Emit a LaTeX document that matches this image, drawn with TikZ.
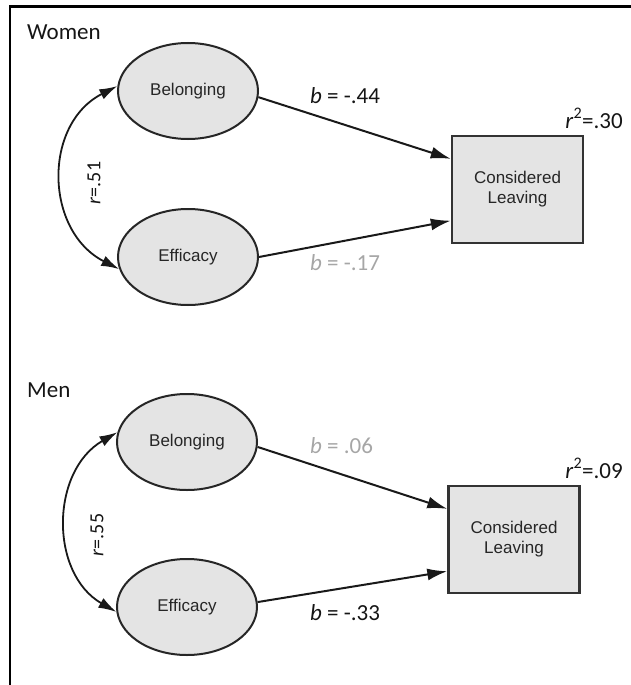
\documentclass[tikz,border=0pt]{standalone}
\usepackage{fontspec}
\setmainfont{Liberation Sans}
\newfontfamily\lblfont{Carlito}
\usetikzlibrary{shapes.geometric,arrows.meta,calc}
\definecolor{latentfill}{HTML}{E4E4E4}
\definecolor{lightlbl}{HTML}{A6A6A6}
\definecolor{darklbl}{HTML}{151515}
\begin{document}
\begin{tikzpicture}[x=1pt,y=-1pt,
  latent/.style={ellipse,draw=black!85,line width=2pt,fill=latentfill,
    minimum width=140pt,minimum height=96pt,inner sep=0pt,
    font=\fontsize{17}{20}\selectfont,text=black!85},
  outcome/.style={rectangle,draw=black!80,line width=2.4pt,fill=latentfill,
    minimum width=131pt,minimum height=107pt,inner sep=0pt,align=center,
    font=\fontsize{17}{20}\selectfont,text=black!85},
  regline/.style={line width=2pt,draw=black!90,-{Latex[length=20pt,width=12pt]}},
  covline/.style={line width=1.8pt,draw=black!90,
    {Latex[length=18pt,width=11pt]}-{Latex[length=18pt,width=11pt]}},
  coef/.style={font=\lblfont\fontsize{23}{25}\selectfont,text=darklbl,inner sep=0pt},
  coefgray/.style={coef,text=lightlbl},
  corr/.style={font=\lblfont\fontsize{20}{22}\selectfont,text=darklbl,inner sep=0pt,rotate=90},
  paneltitle/.style={font=\lblfont\fontsize{23}{25}\selectfont,text=darklbl,inner sep=0pt,anchor=base west},
  frameline/.style={line width=2.5pt,draw=black}
]
\useasboundingbox (0,0) rectangle (631,685);

% frame
\coordinate (fr1) at (631,6.5);
\coordinate (fr2) at (10,6.5);
\coordinate (fr3) at (10,685);
\draw[frameline] (fr1) -- (fr2) -- (fr3);

% ---------------- Women ----------------
\node[paneltitle] (wtitle) at (27,40) {Women};
\node[latent] (wbel) at (188,91) {Belonging};
\node[latent] (weff) at (188,257) {Efficacy};
\node[outcome] (wbox) at (517.5,189.5) {Considered\\Leaving};

\draw[regline] (wbel.-5) -- ($(wbox.north west)!0.22!(wbox.south west)$);
\draw[regline] (weff.east) -- ($(wbox.north west)!0.785!(wbox.south west)$);
\draw[covline] (wbel.176) to[out=207,in=153,looseness=1.17] (weff.190);

\node[coef,anchor=base west] (wlab1) at (310,103) {\textit{b} = -.44};
\node[coefgray,anchor=base west] (wlab2) at (310,270) {\textit{b} = -.17};
\node[coef,anchor=base east] (wr2) at (623,128) {\textit{r}\textsuperscript{2}=.30};
\node[corr] (wcorr) at (94,183) {\textit{r}=.51};

% ---------------- Men ----------------
\node[paneltitle] (mtitle) at (27,397) {Men};
\node[latent] (mbel) at (187,442) {Belonging};
\node[latent] (meff) at (187,607) {Efficacy};
\node[outcome] (mbox) at (514,539.5) {Considered\\Leaving};

\draw[regline] (mbel.-4) -- ($(mbox.north west)!0.22!(mbox.south west)$);
\draw[regline] (meff.4) -- ($(mbox.north west)!0.79!(mbox.south west)$);
\draw[covline] (mbel.172) to[out=210,in=150,looseness=1.1] (meff.184);

\node[coefgray,anchor=base west] (mlab1) at (310,453) {\textit{b} = .06};
\node[coef,anchor=base west] (mlab2) at (310,620) {\textit{b} = -.33};
\node[coef,anchor=base east] (mr2) at (623,478) {\textit{r}\textsuperscript{2}=.09};
\node[corr] (mcorr) at (97,535) {\textit{r}=.55};
\end{tikzpicture}
\end{document}
